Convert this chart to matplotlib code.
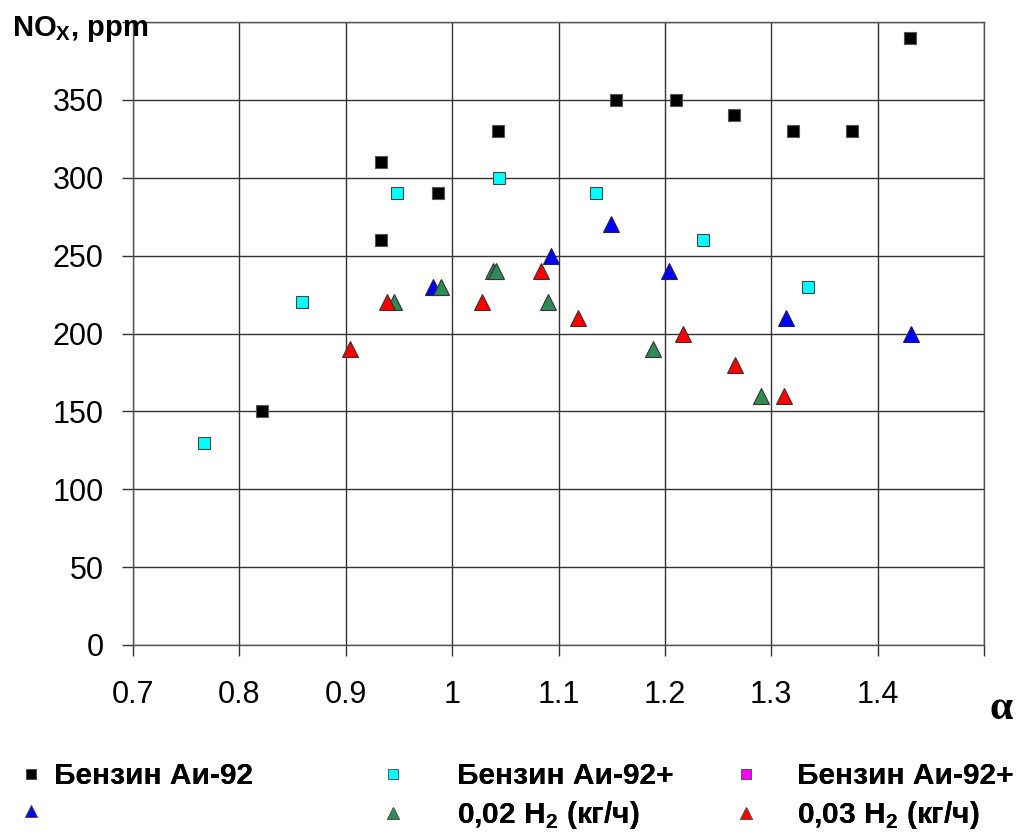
import matplotlib
matplotlib.use('Agg')
from matplotlib import pyplot as plt
from matplotlib.lines import Line2D

plt.rcParams['font.family'] = ['Liberation Sans', 'DejaVu Sans']
plt.rcParams['mathtext.fontset'] = 'custom'
plt.rcParams['mathtext.rm'] = 'Liberation Sans'
plt.rcParams['mathtext.bf'] = 'Liberation Sans:bold'

# data
ai92_x = [0.821, 0.933, 0.933, 0.987, 1.043, 1.154, 1.210, 1.265, 1.320, 1.376, 1.430]
ai92_y = [150, 310, 260, 290, 330, 350, 350, 340, 330, 330, 390]
ai92p_x = [0.767, 0.859, 0.948, 1.044, 1.135, 1.236, 1.335]
ai92p_y = [130, 220, 290, 300, 290, 260, 230]
ai92m_x = []
ai92m_y = []
blue_x = [0.982, 1.093, 1.149, 1.204, 1.314, 1.431]
blue_y = [230, 250, 270, 240, 210, 200]
h002_x = [0.945, 0.990, 1.038, 1.041, 1.090, 1.189, 1.290]
h002_y = [220, 230, 240, 240, 220, 190, 160]
h003_x = [0.904, 0.939, 1.028, 1.084, 1.118, 1.217, 1.266, 1.312]
h003_y = [190, 220, 220, 240, 210, 200, 180, 160]

xticks = [0.7, 0.8, 0.9, 1.0, 1.1, 1.2, 1.3, 1.4, 1.5]
xticklabels = ['0.7', '0.8', '0.9', '1', '1.1', '1.2', '1.3', '1.4', '']
yticks = [0, 50, 100, 150, 200, 250, 300, 350, 400]
yticklabels = ['0', '50', '100', '150', '200', '250', '300', '350', '']

fig = plt.figure(figsize=(10.31, 8.34), dpi=100)
ax = fig.add_axes([133/1031, 1-645/834, (984-133)/1031, (645-22)/834])

ax.grid(True, color='#333333', lw=1)
ax.set_axisbelow(True)
for s in ax.spines.values():
    s.set_color('#555555')
    s.set_linewidth(1)

sq = dict(marker='s', linestyle='none', markersize=9, markeredgewidth=0.8)
tr = dict(marker='^', linestyle='none', markersize=11, markeredgewidth=0.8)
ax.plot(ai92_x, ai92_y, color='black', markeredgecolor='#555555', **sq)
ax.plot(ai92p_x, ai92p_y, color='#00FFFF', markeredgecolor='#444444', **sq)
ax.plot(ai92m_x, ai92m_y, color='#FF00FF', markeredgecolor='#444444', **sq)
ax.plot(blue_x, blue_y, color='#0000FF', markeredgecolor='#222244', **tr)
ax.plot(h002_x, h002_y, color='#2E8B57', markeredgecolor='#333333', **tr)
ax.plot(h003_x, h003_y, color='#FF0000', markeredgecolor='#333333', **tr)

ax.set_xlim(0.7, 1.5)
ax.set_ylim(0, 400)
ax.set_xticks(xticks)
ax.set_xticklabels(xticklabels)
ax.set_yticks(yticks)
ax.set_yticklabels(yticklabels)
ax.tick_params(axis='both', direction='out', length=8, width=1, color='#333333', labelsize=22)
ax.tick_params(axis='x', pad=17)
ax.tick_params(axis='y', pad=13)

fig.text(12/1031, 1-29/834, r'NO$_\mathbf{X}$, ppm', fontsize=21, fontweight='bold', ha='left', va='center')
fig.text(1001/1031, 1-709/834, 'α', fontsize=30, fontweight='bold', family='Liberation Serif',
         ha='center', va='center')

# legend, one per column like the original layout
def h(marker, color, ms):
    return Line2D([], [], marker=marker, linestyle='none', color=color,
                  markeredgecolor='#555555', markersize=ms, markeredgewidth=0.6)

cols = [
    ([h('s', 'black', 7), h('^', '#0000FF', 8)], ['Бензин Аи-92', ' '], 16, 0.29),
    ([h('s', '#00FFFF', 7), h('^', '#2E8B57', 8)], ['Бензин Аи-92+', r'0,02 H$_\mathbf{2}$ (кг/ч)'], 378, 1.76),
    ([h('s', '#FF00FF', 7), h('^', '#FF0000', 8)], ['Бензин Аи-92+', r'0,03 H$_\mathbf{2}$ (кг/ч)'], 731, 1.3),
]
for handles, labels, x0, pad in cols:
    leg = fig.legend(handles, labels, loc='upper left', bbox_to_anchor=(x0/1031, 1-762/834),
                     frameon=False, handlelength=1.0, handletextpad=pad * 20 / 21.5, borderpad=0,
                     borderaxespad=0, labelspacing=0.3,
                     prop={'family': 'Liberation Sans', 'weight': 'bold', 'size': 21.5})
    fig.add_artist(leg)

fig.savefig('out.png', dpi=100)
